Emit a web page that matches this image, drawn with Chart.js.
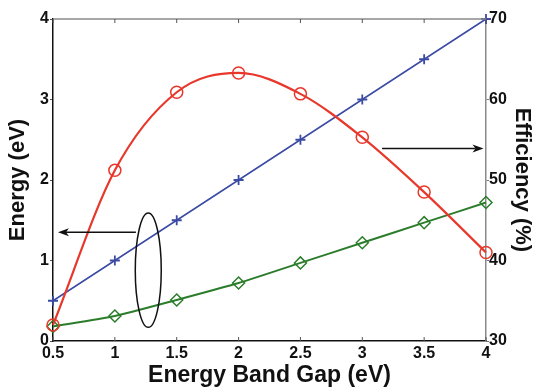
<!DOCTYPE html>
<html>
<head>
<meta charset="utf-8">
<script src="https://cdn.jsdelivr.net/npm/chart.js@4.4.0/dist/chart.umd.min.js"></script>
<style>
  html, body { margin: 0; padding: 0; background: #fff; }
  #wrap { width: 533px; height: 389px; }
</style>
</head>
<body>
<div id="wrap"><canvas id="chart" width="533" height="389"></canvas></div>
<script>
// data
const bandGap = [0.5, 1, 1.5, 2, 2.5, 3, 3.5, 4];
const energyBlue = [0.5, 1, 1.5, 2, 2.5, 3, 3.5, 4];
const energyGreen = [0.18, 0.31, 0.51, 0.72, 0.97, 1.22, 1.47, 1.72];
const efficiency = [32.0, 51.2, 60.9, 63.3, 60.7, 55.3, 48.5, 41.0];

// axis ranges / ticks
const xRange = [0.5, 4];
const energyRange = [0, 4];
const effRange = [30, 70];

// annotations (data units)
const ellipse = { x: 1.27, y: 0.88, rx: 0.105, ry: 0.71 };
const leftArrow = { from: 1.17, to: 0.54, y: 1.35 };
const rightArrow = { from: 3.16, to: 3.98, y: 53.9 };

const toPts = (xs, ys) => xs.map((x, i) => ({ x: x, y: ys[i] }));

function arrowHead(ctx, x, y, dir) {
    // dir: -1 points left, 1 points right
    ctx.beginPath();
    ctx.moveTo(x, y);
    ctx.lineTo(x - dir * 11, y - 4);
    ctx.lineTo(x - dir * 8, y);
    ctx.lineTo(x - dir * 11, y + 4);
    ctx.closePath();
    ctx.fill();
}

// inner tick marks, top border and the arrows / ellipse
const extras = {
    id: 'extras',
    afterDatasetsDraw(chart) {
        const { ctx, chartArea: a } = chart;
        const xs = chart.scales.x, yl = chart.scales.y, yr = chart.scales.y1;
        ctx.save();

        // top border
        ctx.strokeStyle = '#8a8a8a';
        ctx.lineWidth = 1.5;
        ctx.beginPath();
        ctx.moveTo(a.left, a.top);
        ctx.lineTo(a.right, a.top);
        ctx.stroke();

        // x ticks pointing inwards
        ctx.strokeStyle = '#555';
        ctx.lineWidth = 1;
        xs.ticks.forEach(t => {
            const px = xs.getPixelForValue(t.value);
            ctx.beginPath();
            ctx.moveTo(px, a.bottom); ctx.lineTo(px, a.bottom - 4);
            ctx.moveTo(px, a.top); ctx.lineTo(px, a.top + 4);
            ctx.stroke();
        });

        ctx.strokeStyle = '#111';
        ctx.fillStyle = '#111';
        ctx.lineWidth = 1.5;

        // ellipse around the energy curves
        const cx = xs.getPixelForValue(ellipse.x);
        const cy = yl.getPixelForValue(ellipse.y);
        const rx = xs.getPixelForValue(ellipse.x + ellipse.rx) - cx;
        const ry = cy - yl.getPixelForValue(ellipse.y + ellipse.ry);
        ctx.beginPath();
        ctx.ellipse(cx, cy, rx, ry, 0, 0, Math.PI * 2);
        ctx.stroke();

        // arrow to the left axis
        let y = yl.getPixelForValue(leftArrow.y);
        let x0 = xs.getPixelForValue(leftArrow.from), x1 = xs.getPixelForValue(leftArrow.to);
        ctx.beginPath();
        ctx.moveTo(x0, y); ctx.lineTo(x1 + 8, y);
        ctx.stroke();
        arrowHead(ctx, x1, y, -1);

        // arrow to the right axis
        y = yr.getPixelForValue(rightArrow.y);
        x0 = xs.getPixelForValue(rightArrow.from); x1 = xs.getPixelForValue(rightArrow.to);
        ctx.beginPath();
        ctx.moveTo(x0, y); ctx.lineTo(x1 - 8, y);
        ctx.stroke();
        arrowHead(ctx, x1, y, 1);

        ctx.restore();
    }
};

const tickFont = { family: '"Liberation Sans", Arial, sans-serif', size: 16, weight: 'bold' };
const titleFont = (size) => ({ family: '"Liberation Sans", Arial, sans-serif', size: size, weight: 'bold', lineHeight: 1 });
const plainNum = (v) => String(v);

new Chart(document.getElementById('chart').getContext('2d'), {
    type: 'line',
    data: {
        datasets: [
            {
                data: toPts(bandGap, efficiency),
                yAxisID: 'y1',
                borderColor: '#e8372b',
                backgroundColor: 'rgba(0,0,0,0)',
                borderWidth: 2.2,
                pointStyle: 'circle',
                pointRadius: 6,
                pointBorderWidth: 1.5,
                cubicInterpolationMode: 'monotone',
                clip: false
            },
            {
                data: toPts(bandGap, energyBlue),
                yAxisID: 'y',
                borderColor: '#3b4aa3',
                backgroundColor: '#3b4aa3',
                borderWidth: 1.5,
                pointStyle: 'cross',
                pointRadius: 5,
                pointBorderWidth: 1.8,
                tension: 0,
                clip: false
            },
            {
                data: toPts(bandGap, energyGreen),
                yAxisID: 'y',
                borderColor: '#2b7d2b',
                backgroundColor: 'rgba(0,0,0,0)',
                borderWidth: 2,
                pointStyle: 'rectRot',
                pointRadius: 6,
                pointBorderWidth: 1.5,
                tension: 0.2,
                clip: false
            }
        ]
    },
    options: {
        responsive: false,
        animation: false,
        layout: { padding: { top: 19, left: 0, right: 0, bottom: 0 } },
        plugins: {
            legend: { display: false },
            tooltip: { enabled: false }
        },
        scales: {
            x: {
                type: 'linear',
                min: xRange[0],
                max: xRange[1],
                ticks: { stepSize: 0.5, color: '#111', font: tickFont, padding: 3, maxRotation: 0, callback: plainNum },
                grid: { display: false, drawTicks: false },
                border: { display: true, color: '#111', width: 1.5 },
                title: { display: true, text: 'Energy Band Gap (eV)', color: '#111', font: titleFont(23), padding: { top: 0, bottom: 2 } },
                afterFit(scale) { scale.height = 48; }
            },
            y: {
                position: 'left',
                min: energyRange[0],
                max: energyRange[1],
                ticks: { stepSize: 1, color: '#111', font: tickFont, padding: 1, callback: plainNum },
                grid: { drawOnChartArea: false, tickLength: 3, color: '#555' },
                border: { display: true, color: '#111', width: 1.5 },
                title: { display: true, text: 'Energy (eV)', color: '#111', font: titleFont(22), padding: { top: 7, bottom: 0 } },
                afterFit(scale) { scale.width = 53; }
            },
            y1: {
                position: 'right',
                min: effRange[0],
                max: effRange[1],
                ticks: { stepSize: 10, color: '#111', font: tickFont, padding: 0, callback: plainNum },
                grid: { drawOnChartArea: false, tickLength: 3, color: '#777' },
                border: { display: true, color: '#8a8a8a', width: 1.5 },
                title: { display: true, text: 'Efficiency (%)', color: '#111', font: titleFont(22), padding: { top: 0, bottom: 0 } },
                afterFit(scale) { scale.width = 47; }
            }
        }
    },
    plugins: [extras]
});
</script>
</body>
</html>
